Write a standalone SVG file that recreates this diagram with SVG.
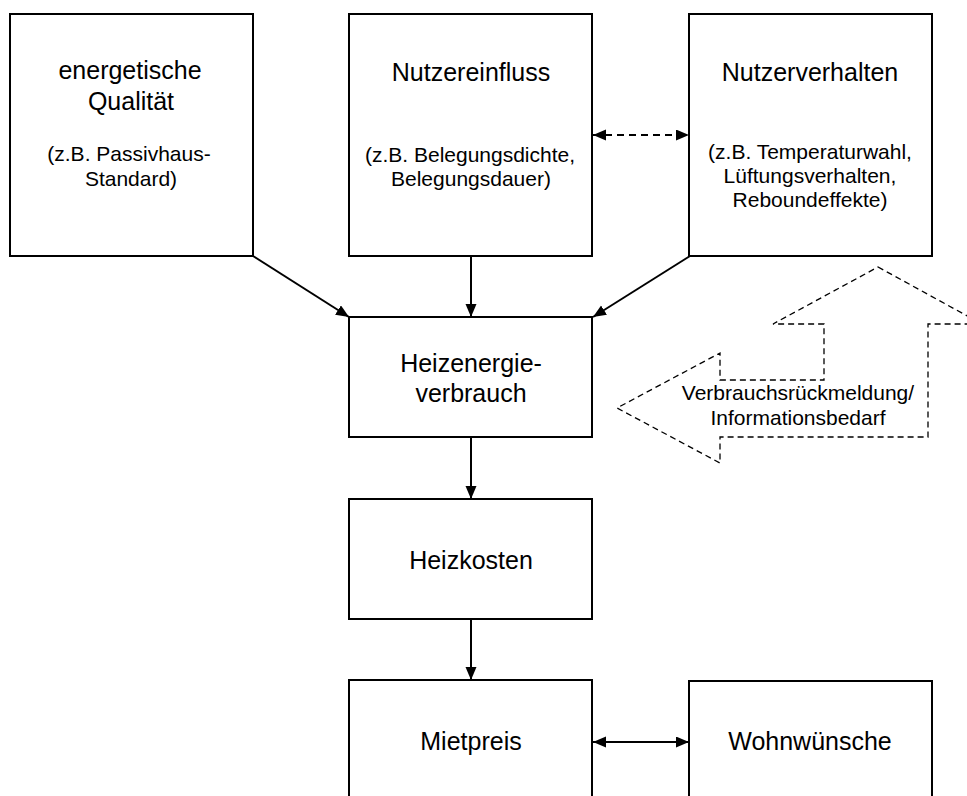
<svg xmlns="http://www.w3.org/2000/svg" width="967" height="796" viewBox="0 0 967 796">
<style>
.box{fill:#fff;stroke:#000;stroke-width:2}
.t{font-family:"Liberation Sans",Arial,sans-serif;font-size:25px;text-anchor:middle;fill:#000}
.s{font-family:"Liberation Sans",Arial,sans-serif;font-size:21px;text-anchor:middle;fill:#000}
.c{fill:none;stroke:#000;stroke-width:2}
.d{fill:none;stroke:#000;stroke-width:2;stroke-dasharray:7 5}
.call{fill:none;stroke:#000;stroke-width:1.3;stroke-dasharray:6 4}
</style>
<defs>
<marker id="ah" markerUnits="userSpaceOnUse" markerWidth="14" markerHeight="12" refX="13" refY="5.5" orient="auto-start-reverse">
<path d="M0,0 L13,5.5 L0,11 z" fill="#000"/>
</marker>
</defs>
<rect width="967" height="796" fill="#fff"/>
<g id="energetische-qualitaet">
<rect class="box" x="10" y="14" width="243" height="242"/>
<text class="t" x="130" y="79">energetische</text>
<text class="t" x="131" y="110">Qualität</text>
<text class="s" x="129" y="161">(z.B. Passivhaus-</text>
<text class="s" x="131" y="186">Standard)</text>
</g>
<g id="nutzereinfluss">
<rect class="box" x="349" y="14" width="243" height="242"/>
<text class="t" x="471" y="81">Nutzereinfluss</text>
<text class="s" x="470" y="162">(z.B. Belegungsdichte,</text>
<text class="s" x="471" y="186">Belegungsdauer)</text>
</g>
<g id="nutzerverhalten">
<rect class="box" x="689" y="14" width="243" height="242"/>
<text class="t" x="810" y="81">Nutzerverhalten</text>
<text class="s" x="810" y="159">(z.B. Temperaturwahl,</text>
<text class="s" x="810" y="183">Lüftungsverhalten,</text>
<text class="s" x="810" y="207">Reboundeffekte)</text>
</g>
<g id="heizenergieverbrauch">
<rect class="box" x="349" y="317" width="243" height="120"/>
<text class="t" x="471" y="372">Heizenergie-</text>
<text class="t" x="471" y="402">verbrauch</text>
</g>
<g id="heizkosten">
<rect class="box" x="349" y="499" width="243" height="120"/>
<text class="t" x="471" y="569">Heizkosten</text>
</g>
<g id="mietpreis">
<rect class="box" x="349" y="680" width="243" height="140"/>
<text class="t" x="471" y="750">Mietpreis</text>
</g>
<g id="wohnwuensche">
<rect class="box" x="689" y="681" width="243" height="140"/>
<text class="t" x="810" y="750">Wohnwünsche</text>
</g>
<g id="feedback">
<path class="call" d="M878,267 L982,324 L928,324 L928,437 L720,437 L720,463 L617,408 L720,353 L720,380 L824,380 L824,324 L773,324 Z"/>
<text class="s" x="798" y="400">Verbrauchsrückmeldung/</text>
<text class="s" x="798" y="425">Informationsbedarf</text>
</g>
<g id="connectors">
<line class="c" x1="253" y1="256" x2="349" y2="317" marker-end="url(#ah)"/>
<line class="c" x1="471" y1="256" x2="471" y2="317" marker-end="url(#ah)"/>
<line class="c" x1="690" y1="256" x2="593" y2="317" marker-end="url(#ah)"/>
<line class="c" x1="471" y1="437" x2="471" y2="499" marker-end="url(#ah)"/>
<line class="c" x1="471" y1="619" x2="471" y2="680" marker-end="url(#ah)"/>
<line class="c" x1="593" y1="742" x2="689" y2="742" marker-start="url(#ah)" marker-end="url(#ah)"/>
<line class="d" x1="593" y1="135" x2="689" y2="135" marker-start="url(#ah)" marker-end="url(#ah)"/>
</g>
</svg>
